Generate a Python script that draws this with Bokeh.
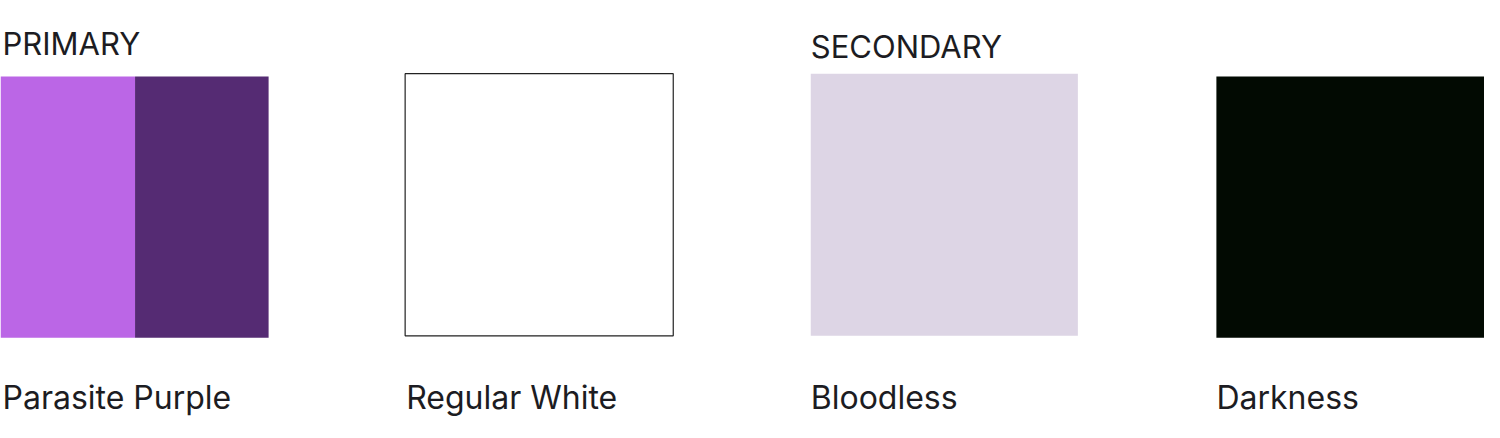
from bokeh.core.properties import value
from bokeh.embed import file_html
from bokeh.models import ColumnDataSource, Range1d
from bokeh.plotting import figure
from bokeh.resources import INLINE

# palette data
swatch_names = ["Parasite Purple", "Regular White", "Bloodless", "Darkness"]
group_labels = ["PRIMARY", "SECONDARY"]
fill_colors = ["#bb66e6", "#552b73", "#ffffff", "#ddd5e5", "#020a02"]

# layout (reference pixel coordinates)
left = [0, 136, 409, 819, 1229]
right = [136, 271, 680, 1089, 1500]
top = [79, 79, 76, 76, 79]
bottom = [350, 350, 348, 348, 350]
border = [None, None, "#222222", None, None]
label_x = [2, 410, 819, 1229]
group_x = [2, 819]
group_y = [45, 48]

p = figure(width=1484, height=422, output_backend="svg", toolbar_location=None,
           x_range=Range1d(0, 1500), y_range=Range1d(438, 0), min_border=0)
p.axis.visible = False
p.grid.visible = False
p.outline_line_color = None

src = ColumnDataSource(dict(left=left, right=right, top=top, bottom=bottom,
                            color=fill_colors, line=border))
p.quad(left="left", right="right", top="top", bottom="bottom", fill_color="color",
       line_color="line", line_width=1.2, source=src)

p.text(x=label_x, y=[412] * 4, text=swatch_names, text_font=value("Inter"),
       text_font_size="32px", text_color="#1c1c22", text_baseline="alphabetic")
p.text(x=group_x, y=group_y, text=group_labels, text_font=value("Inter"),
       text_font_size="31px", text_color="#1c1c22", text_baseline="alphabetic")

open("out.html", "w").write(file_html(p, INLINE))
